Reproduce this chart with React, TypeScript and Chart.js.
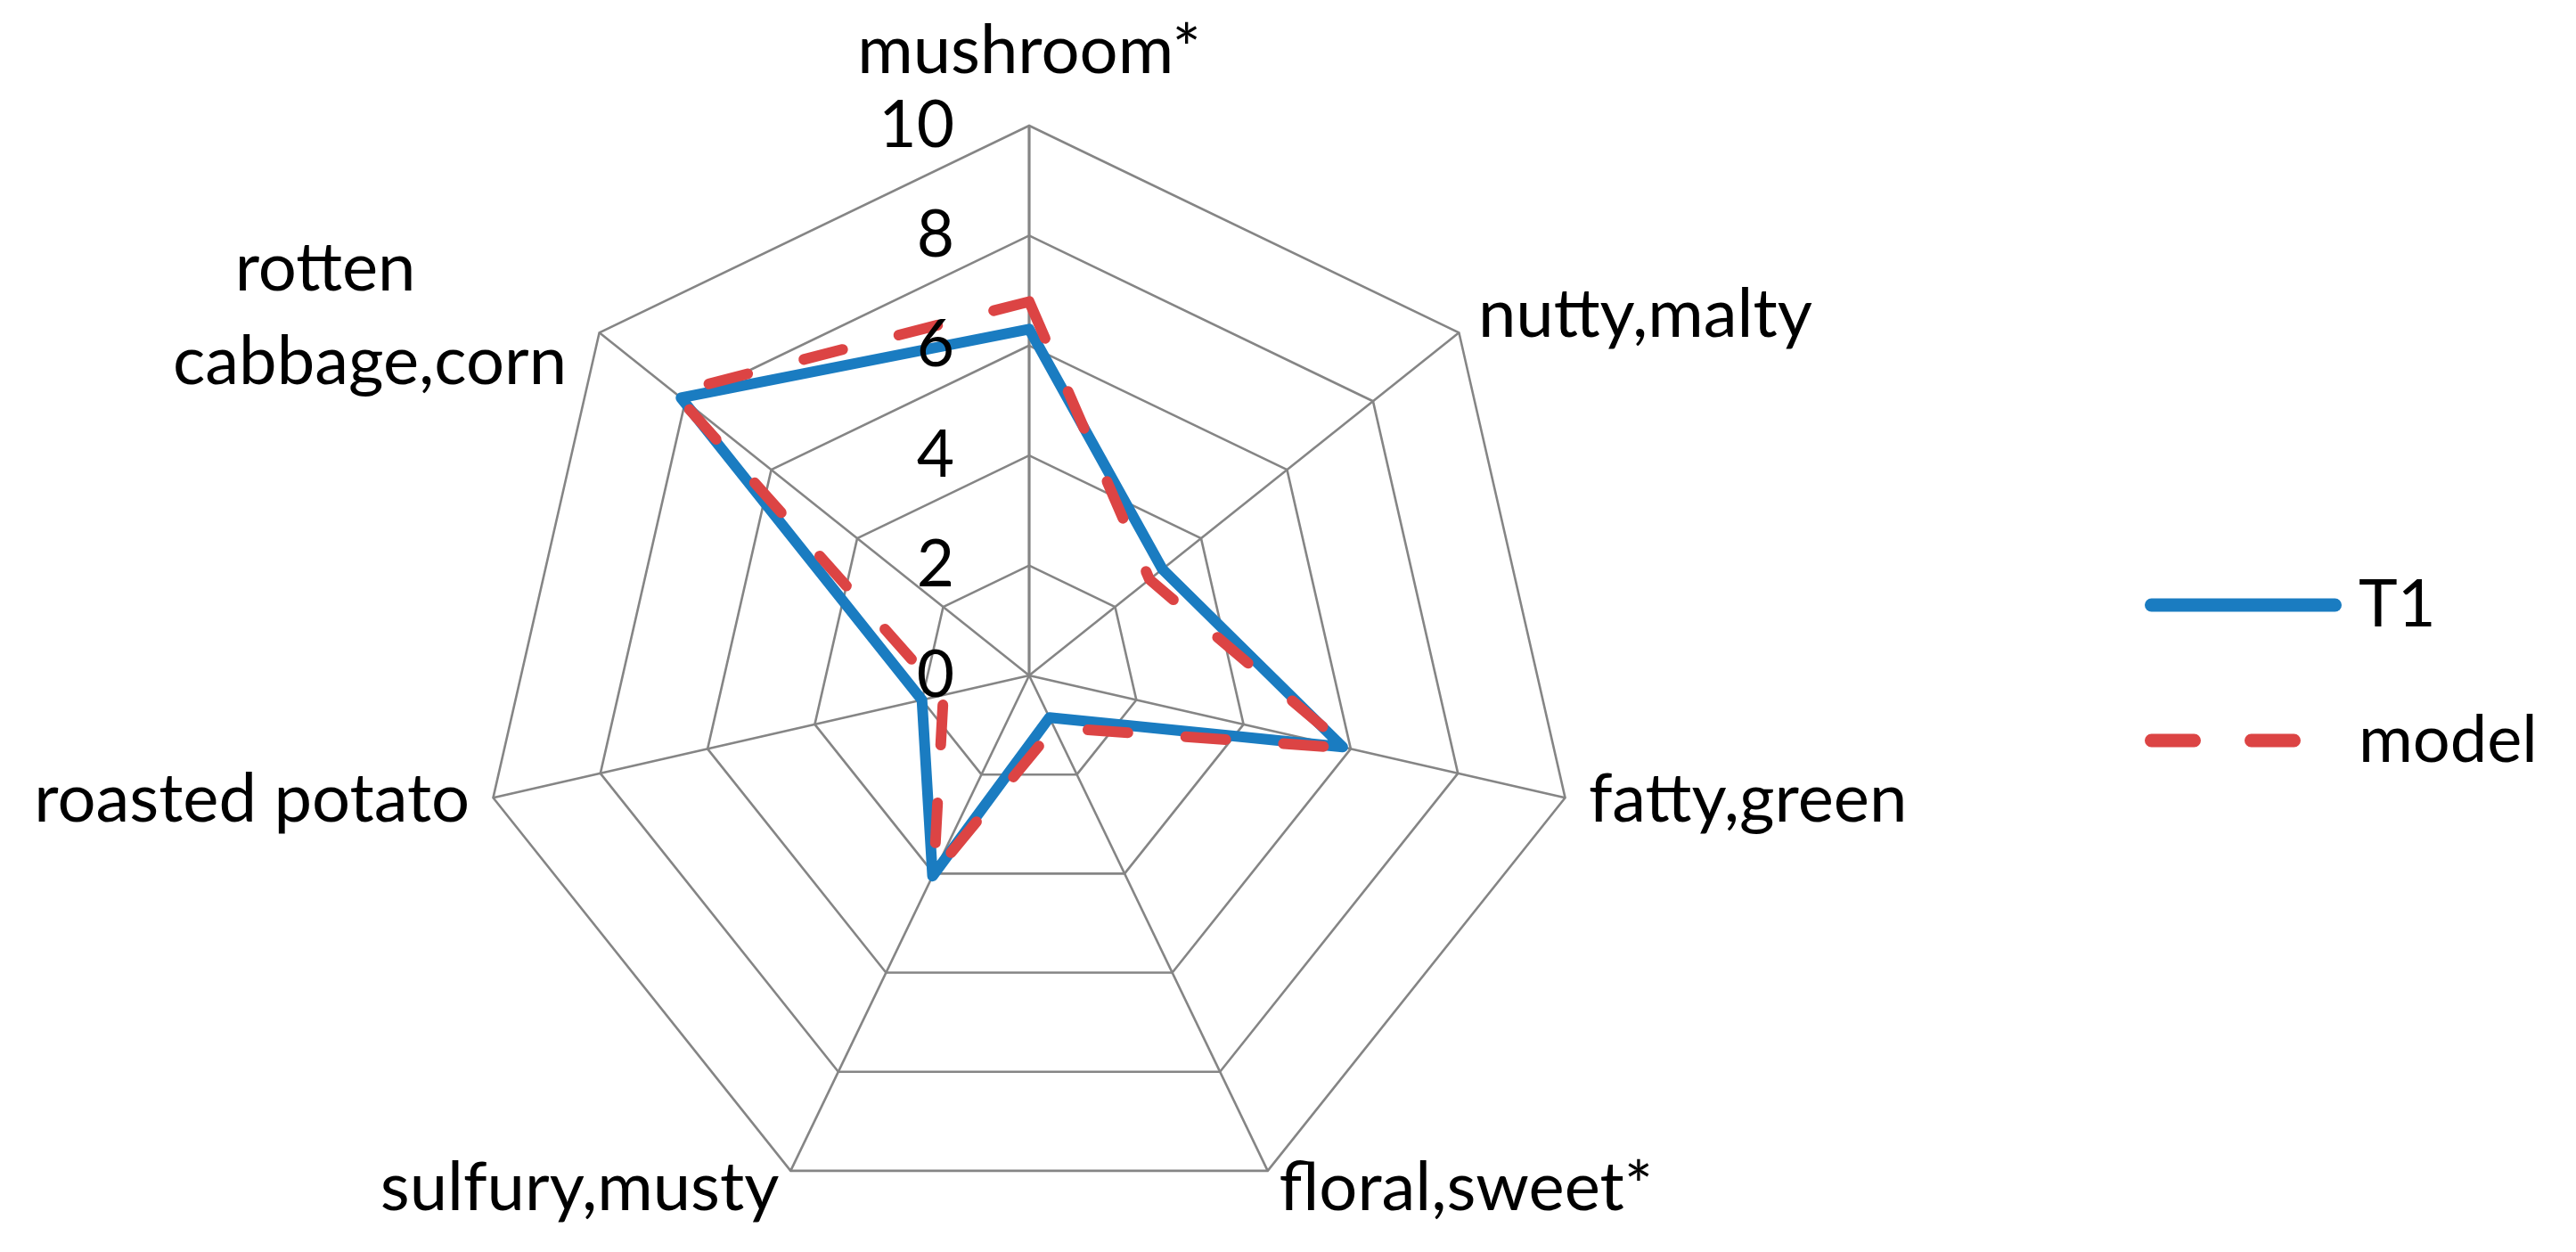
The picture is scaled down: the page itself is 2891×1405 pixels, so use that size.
import React, { useEffect, useRef } from "react";
import { Chart, registerables } from "chart.js";

Chart.register(...registerables);

// ---- data ----
const categories: string[][] = [
  ["mushroom*"],
  ["nutty,malty"],
  ["fatty,green"],
  ["floral,sweet*"],
  ["sulfury,musty"],
  ["roasted potato"],
  ["rotten", "cabbage,corn"],
];
const t1Values = [6.3, 3.1, 5.85, 0.85, 4.05, 2.0, 8.1];
const modelValues = [6.8, 2.8, 5.95, 1.05, 4.0, 1.6, 8.25];
const seriesNames = ["T1", "model"];
const tickValues = [0, 2, 4, 6, 8, 10];

// ---- styling ----
const FONT = 'Lato, "Open Sans", sans-serif';
const BLUE = "#1a7cc1";
const RED = "#dc4444";
const GRID = "#858585";

const W = 2891;
const H = 1405;

const labelPlugin = {
  id: "excelLabels",
  afterDatasetsDraw(chart: any) {
    const scale = chart.scales.r;
    const ctx = chart.ctx as CanvasRenderingContext2D;
    ctx.save();
    ctx.fillStyle = "#000";

    // radial tick labels, right-aligned left of the vertical axis
    ctx.font = `73px ${FONT}`;
    ctx.textAlign = "right";
    ctx.textBaseline = "middle";
    for (const v of tickValues) {
      const d = scale.getDistanceFromCenterForValue(v);
      ctx.fillText(String(v), scale.xCenter - 84, scale.yCenter - d);
    }

    // point labels
    ctx.font = `76px ${FONT}`;
    ctx.textBaseline = "alphabetic";
    const LH = 105;
    (chart.data.labels as any[]).forEach((lab, i) => {
      const lines: string[] = Array.isArray(lab) ? lab : [String(lab)];
      const p = scale.getPointPosition(i, scale.drawingArea);
      const c = Math.cos(p.angle);
      const s = Math.sin(p.angle);
      if (Math.abs(c) < 0.05 && s < 0) {
        ctx.textAlign = "center";
        const base = p.y - 59;
        lines.forEach((ln, k) => {
          ctx.fillText(ln, p.x, base - (lines.length - 1 - k) * LH);
        });
        return;
      }
      const multi = lines.length > 1;
      const dx = 25 * Math.abs(c) + 2 + (multi ? 15 : 0);
      const dy = 21 + 25.6 * s;
      const firstBase = p.y + dy - ((lines.length - 1) * LH) / 2;
      if (!multi) {
        ctx.textAlign = c > 0 ? "left" : "right";
        ctx.fillText(lines[0], c > 0 ? p.x + dx : p.x - dx, firstBase);
      } else {
        const widths = lines.map((ln) => ctx.measureText(ln).width);
        const bw = Math.max(...widths);
        const cx = c > 0 ? p.x + dx + bw / 2 : p.x - dx - bw / 2;
        ctx.textAlign = "center";
        lines.forEach((ln, k) => {
          const shift = k === 0 ? -50 : 0;
          ctx.fillText(ln, cx + shift, firstBase + k * LH);
        });
      }
    });
    ctx.restore();
  },
  afterDraw(chart: any) {
    const ctx = chart.ctx as CanvasRenderingContext2D;
    ctx.save();
    const x0 = 2407;
    const x1 = 2628;
    const y0 = 679;
    const gap = 152;
    seriesNames.forEach((name, i) => {
      const ds = chart.data.datasets[i];
      const y = y0 + i * gap;
      ctx.strokeStyle = ds.borderColor;
      ctx.lineWidth = 15;
      ctx.lineCap = "round";
      ctx.setLineDash(ds.borderDash ? [48, 64] : []);
      ctx.beginPath();
      ctx.moveTo(x0 + 7.5, y);
      ctx.lineTo(x1 - 7.5, y);
      ctx.stroke();
      ctx.setLineDash([]);
      ctx.fillStyle = "#000";
      ctx.font = `74px ${FONT}`;
      ctx.textAlign = "left";
      ctx.textBaseline = "alphabetic";
      ctx.fillText(name, 2647, y + 24);
    });
    ctx.restore();
  },
};

export default function App() {
  const ref = useRef<HTMLCanvasElement | null>(null);

  useEffect(() => {
    if (!ref.current) return;
    const chart = new Chart(ref.current, {
      type: "radar",
      data: {
        labels: categories,
        datasets: [
          {
            label: seriesNames[0],
            data: t1Values,
            borderColor: BLUE,
            borderWidth: 12,
            borderJoinStyle: "round",
            borderCapStyle: "round",
            fill: false,
            pointRadius: 0,
            pointHoverRadius: 0,
            tension: 0,
            order: 1,
          },
          {
            label: seriesNames[1],
            data: modelValues,
            borderColor: RED,
            borderWidth: 12,
            borderDash: [45, 65],
            borderJoinStyle: "round",
            borderCapStyle: "round",
            fill: false,
            pointRadius: 0,
            pointHoverRadius: 0,
            tension: 0,
            order: 0,
          },
        ],
      },
      options: {
        responsive: false,
        animation: false,
        devicePixelRatio: 1,
        layout: { padding: { left: 538, top: 141, right: 1119, bottom: 30 } },
        plugins: {
          legend: { display: false },
          tooltip: { enabled: false },
        },
        scales: {
          r: {
            min: 0,
            max: 10,
            ticks: { stepSize: 2, display: false },
            pointLabels: { display: false },
            grid: { color: GRID, lineWidth: 2.6 },
            angleLines: {
              color: GRID,
              lineWidth: (c: any) => (c.index === 0 ? 3.2 : 2.6),
            },
          },
        },
      },
      plugins: [labelPlugin],
    });
    return () => chart.destroy();
  }, []);

  return (
    <div style={{ position: "fixed", left: 0, top: 0, width: W, height: H, background: "#fff" }}>
      <canvas ref={ref} width={W} height={H} style={{ display: "block", width: W, height: H }} />
    </div>
  );
}
